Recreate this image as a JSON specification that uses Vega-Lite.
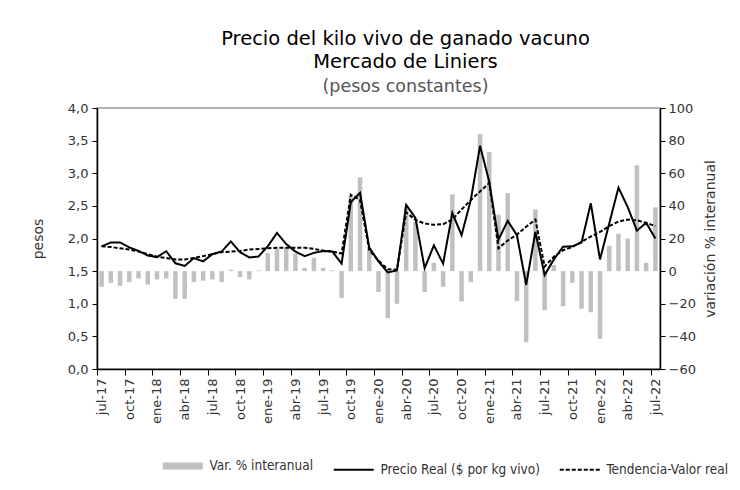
{
  "$schema": "https://vega.github.io/schema/vega-lite/v6.json",
  "width": 563,
  "height": 261,
  "autosize": {"type": "none"},
  "padding": {"left": 97, "top": 108, "right": 80, "bottom": 121},
  "background": "white",
  "config": {
    "locale": {"number": {"decimal": ",", "thousands": ".", "grouping": [3], "currency": ["$", ""]}},
    "view": {"stroke": "#999999", "strokeWidth": 1.5},
    "axis": {
      "labelFont": "DejaVu Sans",
      "labelFontSize": 13,
      "labelColor": "#333333",
      "labelOverlap": false,
      "labelFlush": false,
      "titleFont": "DejaVu Sans",
      "titleFontWeight": "normal",
      "titleFontSize": 14,
      "titleColor": "#333333",
      "domainColor": "#000000",
      "domainWidth": 1.5,
      "tickColor": "#000000",
      "grid": false
    }
  },
  "title": {
    "text": ["Precio del kilo vivo de ganado vacuno", "Mercado de Liniers"],
    "subtitle": "(pesos constantes)",
    "font": "DejaVu Sans",
    "fontSize": 19.5,
    "fontWeight": "normal",
    "color": "#000000",
    "lineHeight": 23,
    "subtitleFont": "DejaVu Sans",
    "subtitleFontSize": 17.5,
    "subtitleColor": "#555555",
    "subtitlePadding": 5,
    "anchor": "middle",
    "offset": 6,
    "dx": 27
  },
  "data": {
    "values": [
      {"mes": "jul-17", "var": -9.6, "precio": 1.88, "tend": 1.88},
      {"mes": "ago-17", "var": -7.2, "precio": 1.94, "tend": 1.87},
      {"mes": "sep-17", "var": -9.0, "precio": 1.94, "tend": 1.85},
      {"mes": "oct-17", "var": -6.7, "precio": 1.865, "tend": 1.83},
      {"mes": "nov-17", "var": -4.5, "precio": 1.81, "tend": 1.8},
      {"mes": "dic-17", "var": -8.2, "precio": 1.74, "tend": 1.76},
      {"mes": "ene-18", "var": -5.1, "precio": 1.715, "tend": 1.72},
      {"mes": "feb-18", "var": -4.5, "precio": 1.805, "tend": 1.7},
      {"mes": "mar-18", "var": -17.0, "precio": 1.62, "tend": 1.68},
      {"mes": "abr-18", "var": -17.0, "precio": 1.58, "tend": 1.68},
      {"mes": "may-18", "var": -6.7, "precio": 1.7, "tend": 1.7},
      {"mes": "jun-18", "var": -5.8, "precio": 1.65, "tend": 1.73},
      {"mes": "jul-18", "var": -5.1, "precio": 1.76, "tend": 1.76},
      {"mes": "ago-18", "var": -6.7, "precio": 1.8, "tend": 1.79},
      {"mes": "sep-18", "var": 0.8, "precio": 1.955, "tend": 1.8},
      {"mes": "oct-18", "var": -3.7, "precio": 1.79, "tend": 1.81},
      {"mes": "nov-18", "var": -5.1, "precio": 1.71, "tend": 1.83},
      {"mes": "dic-18", "var": 0.4, "precio": 1.725, "tend": 1.84},
      {"mes": "ene-19", "var": 11.2, "precio": 1.88, "tend": 1.85},
      {"mes": "feb-19", "var": 13.7, "precio": 2.085, "tend": 1.86},
      {"mes": "mar-19", "var": 14.5, "precio": 1.915, "tend": 1.86},
      {"mes": "abr-19", "var": 10.7, "precio": 1.8, "tend": 1.86},
      {"mes": "may-19", "var": 2.0, "precio": 1.73, "tend": 1.86},
      {"mes": "jun-19", "var": 8.2, "precio": 1.78, "tend": 1.84},
      {"mes": "jul-19", "var": 2.0, "precio": 1.81, "tend": 1.815},
      {"mes": "ago-19", "var": 0.5, "precio": 1.8, "tend": 1.8},
      {"mes": "sep-19", "var": -16.4, "precio": 1.615, "tend": 1.77},
      {"mes": "oct-19", "var": 46.0, "precio": 2.555, "tend": 2.67},
      {"mes": "nov-19", "var": 57.5, "precio": 2.7, "tend": 2.59},
      {"mes": "dic-19", "var": 14.0, "precio": 1.86, "tend": 1.82},
      {"mes": "ene-20", "var": -12.8, "precio": 1.65, "tend": 1.66},
      {"mes": "feb-20", "var": -28.8, "precio": 1.48, "tend": 1.53},
      {"mes": "mar-20", "var": -20.0, "precio": 1.51, "tend": 1.52},
      {"mes": "abr-20", "var": 39.0, "precio": 2.515, "tend": 2.4},
      {"mes": "may-20", "var": 30.0, "precio": 2.315, "tend": 2.285},
      {"mes": "jun-20", "var": -12.8, "precio": 1.545, "tend": 2.23},
      {"mes": "jul-20", "var": 5.1, "precio": 1.895, "tend": 2.21},
      {"mes": "ago-20", "var": -9.6, "precio": 1.615, "tend": 2.22},
      {"mes": "sep-20", "var": 47.0, "precio": 2.39, "tend": 2.29},
      {"mes": "oct-20", "var": -18.6, "precio": 2.05, "tend": 2.445},
      {"mes": "nov-20", "var": -6.7, "precio": 2.59, "tend": 2.59},
      {"mes": "dic-20", "var": 84.0, "precio": 3.42, "tend": 2.72},
      {"mes": "ene-21", "var": 73.0, "precio": 2.87, "tend": 2.85},
      {"mes": "feb-21", "var": 34.6, "precio": 1.98, "tend": 1.85},
      {"mes": "mar-21", "var": 47.8, "precio": 2.27, "tend": 1.97},
      {"mes": "abr-21", "var": -18.4, "precio": 2.05, "tend": 2.06},
      {"mes": "may-21", "var": -43.6, "precio": 1.29, "tend": 2.18},
      {"mes": "jun-21", "var": 37.8, "precio": 2.1, "tend": 2.29},
      {"mes": "jul-21", "var": -23.9, "precio": 1.44, "tend": 1.57},
      {"mes": "ago-21", "var": 3.7, "precio": 1.68, "tend": 1.72},
      {"mes": "sep-21", "var": -21.5, "precio": 1.875, "tend": 1.82},
      {"mes": "oct-21", "var": -7.2, "precio": 1.88, "tend": 1.87},
      {"mes": "nov-21", "var": -23.1, "precio": 1.94, "tend": 1.95},
      {"mes": "dic-21", "var": -25.2, "precio": 2.54, "tend": 2.03},
      {"mes": "ene-22", "var": -41.5, "precio": 1.68, "tend": 2.1},
      {"mes": "feb-22", "var": 15.5, "precio": 2.23, "tend": 2.19},
      {"mes": "mar-22", "var": 22.9, "precio": 2.78, "tend": 2.26},
      {"mes": "abr-22", "var": 19.9, "precio": 2.48, "tend": 2.29},
      {"mes": "may-22", "var": 64.9, "precio": 2.12, "tend": 2.28},
      {"mes": "jun-22", "var": 5.1, "precio": 2.24, "tend": 2.24},
      {"mes": "jul-22", "var": 39.1, "precio": 2.0, "tend": 2.19}
    ]
  },
  "layer": [
    {
      "mark": {"type": "bar", "size": 4.5},
      "encoding": {
        "x": {
          "field": "mes",
          "type": "ordinal",
          "sort": null,
          "scale": {"paddingInner": 0, "paddingOuter": 0},
          "axis": {
            "values": ["jul-17", "oct-17", "ene-18", "abr-18", "jul-18", "oct-18", "ene-19", "abr-19", "jul-19", "oct-19", "ene-20", "abr-20", "jul-20", "oct-20", "ene-21", "abr-21", "jul-21", "oct-21", "ene-22", "abr-22", "jul-22"],
            "labelAngle": -90,
            "labelAlign": "right",
            "labelBaseline": "middle",
            "title": null,
            "tickSize": 6,
            "tickOffset": -4.6,
            "labelOffset": 4.6,
            "labelPadding": 3
          }
        },
        "y": {
          "field": "var",
          "type": "quantitative",
          "scale": {"domain": [-60, 100], "nice": false},
          "axis": {
            "orient": "right",
            "values": [-60, -40, -20, 0, 20, 40, 60, 80, 100],
            "format": "d",
            "title": "variación % interanual",
            "titleAngle": 270,
            "titlePadding": 22,
            "tickSize": 5,
            "labelPadding": 3
          }
        },
        "color": {
          "datum": "Var. % interanual",
          "scale": {
            "domain": ["Var. % interanual", "Precio Real ($ por kg vivo)", "Tendencia-Valor real"],
            "range": ["#c0c0c0", "#000000", "#000000"]
          },
          "legend": {
            "orient": "none",
            "legendX": 79,
            "legendY": 351,
            "direction": "horizontal",
            "title": null,
            "symbolType": "stroke",
            "symbolSize": 1600,
            "symbolStrokeWidth": 2,
            "labelFont": "DejaVu Sans Condensed",
            "labelFontSize": 13.5,
            "labelColor": "#333333",
            "columnPadding": 15,
            "labelOffset": 20,
            "encode": {
              "symbols": {
                "update": {
                  "strokeWidth": {"signal": "datum.value === 'Var. % interanual' ? 7 : 2"},
                  "strokeDash": {"signal": "datum.value === 'Tendencia-Valor real' ? [4, 2] : [1, 0]"}
                }
              }
            }
          }
        }
      }
    },
    {
      "layer": [
        {
          "mark": {"type": "line", "strokeWidth": 2},
          "encoding": {
            "x": {"field": "mes", "type": "ordinal", "sort": null},
            "y": {
              "field": "precio",
              "type": "quantitative",
              "scale": {"domain": [0, 4], "nice": false},
              "axis": {
                "orient": "left",
                "values": [0, 0.5, 1, 1.5, 2, 2.5, 3, 3.5, 4],
                "format": ".1f",
                "title": "pesos",
                "titlePadding": 22,
                "tickSize": 5,
                "labelPadding": 4
              }
            },
            "color": {"datum": "Precio Real ($ por kg vivo)"}
          }
        },
        {
          "mark": {"type": "line", "strokeWidth": 2, "strokeDash": [4, 2]},
          "encoding": {
            "x": {"field": "mes", "type": "ordinal", "sort": null},
            "y": {
              "field": "tend",
              "type": "quantitative",
              "scale": {"domain": [0, 4], "nice": false},
              "axis": {
                "orient": "left",
                "values": [0, 0.5, 1, 1.5, 2, 2.5, 3, 3.5, 4],
                "format": ".1f",
                "title": "pesos",
                "titlePadding": 22,
                "tickSize": 5,
                "labelPadding": 4
              }
            },
            "color": {"datum": "Tendencia-Valor real"}
          }
        }
      ]
    }
  ],
  "resolve": {"scale": {"y": "independent"}}
}
